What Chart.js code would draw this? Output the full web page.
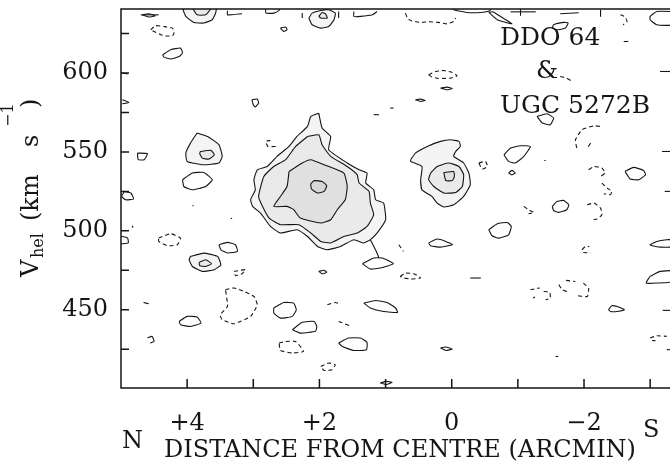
<!DOCTYPE html>
<html>
<head>
<meta charset="utf-8">
<title>DDO 64 position-velocity diagram</title>
<style>
  html, body { margin: 0; padding: 0; background: #fff; }
  #wrap { width: 670px; height: 471px; }
</style>
<script src="https://cdn.jsdelivr.net/npm/chart.js@4.4.1/dist/chart.umd.min.js"></script>
</head>
<body>
<div id="wrap"><canvas id="pv" width="670" height="471"></canvas></div>
<script>
// axes: offset along slit (arcmin, N positive / left) and heliocentric velocity (km/s)
const X_MIN = -3.3, X_MAX = 5;
const Y_MIN = 400.4, Y_MAX = 640.6;
const xTickValues = [4, 3, 2, 1, 0, -1, -2, -3];
const xLabelValues = [4, 2, 0, -2];
const xLabelText = ['+4', '+2', '0', '\u22122'];
const yTickValues = [425, 450, 475, 500, 525, 550, 575, 600, 625];
const yLabelValues = [450, 500, 550, 600];

// DDO 64 emission, outermost level first
const ddo64Outer = [[2.01,574.6],[1.96,565.2],[1.83,559.8],[1.86,551.4],[1.58,543.0],[1.40,538.7],[1.28,536.6],[1.30,530.3],[1.18,526.0],[1.15,519.7],[1.03,517.6],[1.00,507.0],[1.13,498.6],[1.23,494.4],[1.33,492.3],[1.48,494.4],[1.68,490.1],[1.88,488.0],[2.03,490.1],[2.18,496.4],[2.34,500.7],[2.59,498.6],[2.74,502.8],[2.89,511.3],[3.01,515.5],[3.04,519.7],[2.97,526.0],[2.99,532.4],[2.94,538.7],[2.79,540.8],[2.64,547.2],[2.46,553.5],[2.34,559.8],[2.18,566.2],[2.13,572.5]];
const ddo64Second = [[2.18,559.8],[2.01,560.9],[1.96,554.6],[1.83,547.2],[1.58,540.8],[1.43,535.6],[1.40,530.3],[1.25,525.0],[1.23,517.6],[1.18,510.2],[1.28,502.8],[1.43,498.6],[1.63,496.4],[1.83,492.3],[1.98,493.3],[2.13,498.6],[2.31,503.9],[2.59,503.9],[2.76,508.1],[2.86,515.5],[2.92,521.8],[2.84,534.5],[2.69,540.8],[2.51,545.1],[2.36,553.5]];
const ddo64Third = [[2.46,537.6],[2.26,543.0],[2.13,545.1],[1.93,541.9],[1.63,536.6],[1.58,528.1],[1.61,519.7],[1.73,513.4],[1.83,507.0],[1.98,505.0],[2.29,508.1],[2.39,513.4],[2.49,515.5],[2.69,515.5],[2.59,521.8],[2.49,528.1]];
const ddo64Peak = [[2.08,531.9],[1.96,531.3],[1.89,528.6],[1.93,525.0],[2.03,524.0],[2.12,526.5],[2.13,529.8]];
const ddo64Tail = [[1.23,494.4],[1.13,486.0],[1.10,482.8]];

// UGC 5272B emission
const ugcOuter = [[0.62,545.1],[0.55,549.3],[0.37,553.5],[0.17,556.7],[0.02,557.7],[-0.11,556.7],[-0.13,553.5],[-0.06,550.3],[-0.03,547.2],[-0.18,543.0],[-0.26,536.6],[-0.28,529.2],[-0.18,521.8],[-0.03,516.5],[0.12,515.1],[0.22,517.6],[0.30,521.8],[0.45,526.0],[0.47,532.4],[0.45,540.8],[0.62,544.0]];
const ugcMiddle = [[0.32,536.6],[0.22,540.8],[0.05,543.0],[-0.11,540.8],[-0.18,535.6],[-0.16,528.1],[-0.06,524.3],[0.12,524.0],[0.27,528.1],[0.35,532.4]];
const ugcPeak = [[0.12,537.0],[-0.03,537.6],[-0.04,534.5],[-0.01,531.9],[0.09,531.9]];

// weaker shaded features
const blob550Outer = [[3.85,562.0],[3.69,559.8],[3.52,554.6],[3.47,547.2],[3.52,543.0],[3.75,541.9],[4.00,544.0],[4.02,549.3],[3.95,555.6]];
const blob550Inner = [[3.80,550.3],[3.64,551.0],[3.59,548.2],[3.67,545.5],[3.77,546.1],[3.81,548.9]];
const blob480Outer = [[3.95,483.8],[3.75,485.9],[3.54,483.8],[3.49,478.5],[3.59,475.4],[3.77,474.3],[3.92,477.4],[3.97,481.7]];
const blob480Inner = [[3.82,480.0],[3.72,481.7],[3.63,479.1],[3.72,477.4],[3.81,477.9]];
const topBlobAOuter = [[4.08,642],[4.02,635.9],[3.90,632.1],[3.75,631.7],[3.62,633.8],[3.57,638.0],[3.56,642]];
const topBlobAInner = [[3.93,642],[3.85,636.9],[3.72,636.9],[3.63,642]];
const topBlobBOuter = [[2.16,634.9],[2.11,638.0],[1.98,639.7],[1.86,640.1],[1.76,638.0],[1.78,633.8],[1.86,629.5],[1.98,628.5],[2.11,630.6]];
const topBlobBInner = [[2.01,635.9],[1.96,638.4],[1.91,637.6],[1.88,634.9],[1.98,634.9]];

// positive noise contours (closed)
const solidLoops = [
  [[4.75,549.3],[4.60,548.9],[4.65,545.1],[4.74,545.1]],
  [[4.95,525.0],[4.85,524.0],[4.81,520.2],[4.93,519.7],[4.99,521.8]],
  [[4.07,532.4],[3.92,536.6],[3.75,537.0],[3.62,532.4],[3.72,528.1],[3.92,526.0],[4.05,528.1]],
  [[3.52,491.2],[3.39,492.7],[3.27,491.2],[3.24,487.0],[3.39,486.0],[3.49,488.0]],
  [[4.12,442.6],[4.00,445.8],[3.85,445.4],[3.79,441.6],[3.95,439.4],[4.10,440.5]],
  [[1.35,479.2],[1.18,482.8],[1.05,482.8],[0.88,479.2],[1.08,476.4],[1.23,475.8]],
  [[0.35,492.3],[0.22,494.8],[0.09,493.3],[-0.01,491.2],[0.17,489.7],[0.32,490.6]],
  [[2.01,474.3],[1.93,475.0],[1.89,473.7],[1.96,472.8]],
  [[2.69,451.1],[2.54,454.6],[2.39,454.2],[2.35,449.9],[2.41,445.8],[2.59,444.7],[2.69,447.9]],
  [[1.33,454.2],[1.15,455.9],[0.98,454.6],[0.85,451.1],[0.82,448.3],[1.03,448.9],[1.23,451.1]],
  [[2.41,437.3],[2.26,442.0],[2.08,442.6],[2.04,439.4],[2.06,436.3],[2.29,435.2]],
  [[1.71,428.9],[1.56,432.1],[1.38,432.1],[1.28,429.3],[1.29,424.7],[1.48,424.2],[1.66,426.8]],
  [[0.17,425.7],[0.09,426.4],[-0.01,425.1],[0.09,424.2]],
  [[1.08,403.6],[0.99,404.6],[0.90,404.0],[0.99,402.5]],
  [[-0.79,548.2],[-0.89,552.5],[-1.04,553.9],[-1.19,553.5],[-1.09,547.2],[-0.96,543.0],[-0.86,544.0]],
  [[-0.86,536.6],[-0.91,538.3],[-0.96,536.6],[-0.91,535.5]],
  [[-2.62,537.6],[-2.75,540.2],[-2.90,538.3],[-2.93,535.6],[-2.83,532.4],[-2.70,532.8]],
  [[-1.52,515.5],[-1.59,518.6],[-1.69,519.3],[-1.77,516.5],[-1.74,513.4],[-1.62,511.7],[-1.54,512.9]],
  [[-0.56,500.7],[-0.69,504.5],[-0.84,505.3],[-0.90,502.8],[-0.86,497.5],[-0.71,495.4],[-0.61,496.9]],
  [[-2.37,450.0],[-2.42,452.5],[-2.50,452.1],[-2.61,450.0],[-2.50,448.9],[-2.40,448.9]],
  [[4.37,611.6],[4.25,614.8],[4.10,615.8],[4.07,612.7],[4.12,610.5],[4.25,608.9],[4.35,610.1]],
  [[3.02,583.1],[2.94,583.5],[2.92,581.0],[2.97,578.5],[3.00,579.9]],
  [[0.17,590.5],[0.07,591.1],[-0.01,590.2],[0.07,589.4]],
  [[0.55,583.1],[0.47,583.5],[0.40,582.6],[0.47,582.0]],
  [[-1.29,572.5],[-1.44,574.2],[-1.54,571.5],[-1.49,567.2],[-1.37,568.3]],
  [[-1.52,628.5],[-1.54,630.6],[-1.69,632.1],[-1.76,631.7],[-1.72,628.5],[-1.59,627.4]],
  [[4.68,636.9],[4.58,637.6],[4.48,636.3],[4.58,635.5]],
  [[2.59,628.5],[2.51,629.2],[2.49,627.4],[2.54,626.4]],
  [[-0.56,638.5],[-0.69,633.8],[-0.91,631.2],[-0.75,635.5],[-0.62,638.8]],
  [[-3.35,639.0],[-3.10,639.0],[-3.00,635.9],[-3.00,633.8],[-3.10,630.6],[-3.35,630.6]],
  [[-3.35,494.4],[-3.25,494.4],[-3.10,493.3],[-3.00,491.2],[-3.03,490.6],[-3.15,489.7],[-3.35,490.1]],
  [[-3.35,474.9],[-3.15,474.3],[-3.00,471.1],[-2.94,466.9],[-3.10,466.9],[-3.35,467.9]]
];

// positive contour pieces cut by the frame, and tiny fragments
const solidPieces = [
  [[2.81,642],[2.81,638.0],[2.69,638.0],[2.61,639.7],[2.58,642]],
  [[-0.03,642],[-0.03,640.1],[-0.23,638.4],[-0.43,638.4],[-0.58,639.7],[-0.60,642]],
  [[4.70,636.9],[4.43,636.9]],
  [[3.39,639.5],[3.39,636.9],[3.17,637.6]],
  [[2.26,638.0],[2.26,634.9]],
  [[1.71,639.0],[1.71,634.9]],
  [[1.48,639.0],[1.48,635.9],[1.38,635.9],[1.20,636.9],[1.13,639.0]],
  [[-0.89,638.8],[-1.27,638.8]],
  [[-1.04,640.6],[-1.04,636.3]],
  [[-1.64,637.6],[-1.92,638.2]],
  [[-2.25,640.1],[-2.25,635.7]],
  [[-2.60,620.0],[-2.67,620.0]],
  [[-3.15,601.0],[-3.35,601.0]],
  [[-3.18,550.3],[-3.35,550.3]],
  [[-3.22,525.0],[-3.35,525.0]],
  [[-3.19,449.6],[-3.35,449.6]],
  [[-3.25,424.7],[-3.35,424.7]],
  [[1.18,573.6],[1.10,573.6]],
  [[0.93,577.8],[0.88,577.8]],
  [[-0.28,470.1],[-0.44,470.1]],
  [[4.66,454.6],[4.58,453.8]],
  [[4.60,432.1],[4.53,433.1],[4.50,429.9],[4.56,428.9]],
  [[5.05,496.4],[4.98,496.4],[4.90,495.4],[4.89,492.3],[4.98,491.8],[5.05,491.8]],
  [[4.98,583.1],[4.88,581.4],[4.98,580.5]],
  [[4.98,600.0],[4.90,599.5]],
  [[3.92,515.9],[3.90,515.9]],
  [[3.34,507.9],[3.32,507.9]],
  [[4.83,503.2],[4.82,502.0]],
  [[-1.40,544.6],[-1.42,544.6]],
  [[-1.57,420.4],[-1.61,420.4]]
];

// negative contours (dashed)
const dashedLoops = [
  [[4.43,495.4],[4.25,498.2],[4.10,495.4],[4.15,491.2],[4.30,490.6],[4.43,493.3]],
  [[3.29,474.3],[3.12,475.4],[3.17,472.8],[3.27,471.6]],
  [[3.42,462.7],[3.29,463.8],[3.14,461.6],[2.99,458.4],[2.94,453.2],[3.04,445.8],[3.29,441.1],[3.47,443.7],[3.50,446.8],[3.39,452.1]],
  [[4.55,627.4],[4.48,630.0],[4.35,629.5],[4.22,628.5],[4.20,625.3],[4.22,623.6],[4.35,623.6],[4.45,625.3]],
  [[0.35,599.0],[0.24,601.0],[0.12,601.6],[-0.01,600.4],[-0.08,598.3],[0.02,596.8],[0.20,596.6],[0.30,597.5]],
  [[0.78,471.1],[0.70,473.2],[0.57,472.8],[0.47,470.1],[0.62,469.5],[0.72,470.1]],
  [[-0.41,543.0],[-0.51,544.0],[-0.54,540.8],[-0.46,539.2]],
  [[2.61,428.9],[2.51,429.9],[2.36,429.9],[2.24,423.6],[2.41,422.6],[2.59,424.2]],
  [[1.98,414.1],[1.86,416.2],[1.76,415.1],[1.81,412.0],[1.93,411.5]]
];

const dashedPieces = [
  [[-1.09,515.5],[-1.16,513.4],[-1.24,511.7],[-1.16,510.8]],
  [[-2.05,516.5],[-2.15,517.6],[-2.25,514.4],[-2.27,510.2],[-2.20,507.5],[-2.10,507.0]],
  [[-1.89,552.5],[-1.87,557.7],[-1.97,564.1],[-2.15,566.6],[-2.25,566.2]],
  [[-2.10,555.6],[-2.05,552.5]],
  [[-2.07,538.7],[-2.15,540.8],[-2.27,539.8],[-2.32,536.6],[-2.25,534.5]],
  [[-2.27,530.3],[-2.35,527.1],[-2.42,525.0],[-2.40,522.9],[-2.30,523.5]],
  [[-1.97,488.0],[-2.02,490.1],[-2.08,490.1]],
  [[-1.99,486.3],[-2.10,485.9]],
  [[-1.19,462.7],[-1.33,463.8]],
  [[-1.23,457.4],[-1.26,458.0]],
  [[-1.39,461.6],[-1.48,461.0],[-1.49,457.4],[-1.42,456.3]],
  [[-1.62,465.9],[-1.67,462.7],[-1.74,461.6]],
  [[-1.73,468.6],[-1.87,467.9]],
  [[-1.99,466.9],[-2.07,463.7],[-2.05,458.4],[-1.90,458.9]],
  [[-3.00,432.1],[-3.10,433.5],[-3.25,433.1]],
  [[-3.03,430.5],[-3.08,430.4]],
  [[1.88,453.2],[1.76,454.6],[1.69,453.8]],
  [[1.71,442.6],[1.54,439.9]],
  [[0.80,491.2],[0.73,487.0]],
  [[0.70,638.0],[0.67,634.9],[0.62,633.3],[0.47,632.1],[0.35,632.5],[0.20,632.1],[0.07,631.2],[-0.03,632.7],[-0.06,634.9]],
  [[-1.64,597.8],[-1.74,596.8],[-1.82,594.7]],
  [[-2.55,637.0],[-2.62,635.7],[-2.65,632.5],[-2.59,630.6]],
  [[2.74,557.3],[2.81,556.7],[2.78,553.5],[2.66,553.5]]
];

const shaded = [
  ddo64Outer, ddo64Second, ddo64Third, ddo64Peak,
  ugcOuter, ugcMiddle, ugcPeak,
  blob550Outer, blob550Inner, blob480Outer, blob480Inner,
  topBlobAOuter, topBlobAInner, topBlobBOuter, topBlobBInner
];

const FONT = '"DejaVu Serif", "Liberation Serif", serif';
const INK = '#151515';

function toPoints(arr, closed) {
  const pts = arr.map(([x, y]) => ({ x, y }));
  if (closed) pts.push({ x: arr[0][0], y: arr[0][1] });
  return pts;
}

function contour(arr, { closed = true, dashed = false, fill = false } = {}) {
  return {
    data: toPoints(arr, closed),
    showLine: true,
    borderColor: INK,
    borderWidth: 1.1,
    borderDash: dashed ? [4, 3] : [],
    pointRadius: 0,
    tension: 0.15,
    fill: fill ? 'shape' : false,
    backgroundColor: 'rgba(0,0,0,0.045)'
  };
}

const datasets = [
  ...shaded.map(a => contour(a, { fill: true })),
  contour(ddo64Tail, { closed: false }),
  ...solidLoops.map(a => contour(a)),
  ...solidPieces.map(a => contour(a, { closed: false })),
  ...dashedLoops.map(a => contour(a, { dashed: true })),
  ...dashedPieces.map(a => contour(a, { closed: false, dashed: true }))
];

function labelFrom(values, texts, v) {
  const i = values.indexOf(v);
  return i >= 0 ? texts[i] : '';
}

const frameAndText = {
  id: 'frameAndText',
  afterDraw(chart) {
    const { ctx, chartArea: a, scales: { x, y } } = chart;
    ctx.save();
    ctx.strokeStyle = INK;
    ctx.lineWidth = 1.5;
    ctx.beginPath();
    ctx.moveTo(a.right + 2, a.top);
    ctx.lineTo(a.left, a.top);
    ctx.lineTo(a.left, a.bottom);
    ctx.lineTo(a.right + 2, a.bottom);
    xTickValues.forEach(v => {
      const p = x.getPixelForValue(v);
      ctx.moveTo(p, a.bottom); ctx.lineTo(p, a.bottom - 9);
    });
    yTickValues.forEach(v => {
      const p = y.getPixelForValue(v);
      ctx.moveTo(a.left, p); ctx.lineTo(a.left + 8, p);
    });
    ctx.stroke();

    ctx.fillStyle = INK;
    ctx.textBaseline = 'alphabetic';
    ctx.font = '24px ' + FONT;
    ctx.textAlign = 'left';
    ctx.fillText('N', 122, 448);
    ctx.fillText('S', 643, 437);
    ctx.textAlign = 'center';
    ctx.fillText('DISTANCE FROM CENTRE (ARCMIN)', 400, 457);

    ctx.textAlign = 'left';
    ctx.font = '25px ' + FONT;
    ctx.fillText('DDO 64', 500, 45);
    ctx.fillText('&', 536, 78);
    ctx.fillText('UGC 5272B', 500, 113);

    // rotated velocity title with sub/superscripts
    const piece = (txt, size, base, start) => {
      ctx.save();
      ctx.translate(base, start);
      ctx.rotate(-Math.PI / 2);
      ctx.font = size + 'px ' + FONT;
      ctx.fillText(txt, 0, 0);
      ctx.restore();
    };
    piece('V', 24, 38, 277);
    piece('hel', 16, 43, 258);
    piece('(km', 24, 38, 221);
    piece('s', 24, 38, 147);
    piece('\u22121', 16, 13, 127);
    piece(')', 24, 38, 108);
    ctx.restore();
  }
};

new Chart(document.getElementById('pv'), {
  type: 'scatter',
  data: { datasets },
  options: {
    responsive: false,
    animation: false,
    events: [],
    layout: { padding: { top: 9, right: 0, bottom: 0, left: 0 } },
    plugins: { legend: { display: false }, tooltip: { enabled: false } },
    scales: {
      x: {
        type: 'linear', reverse: true, min: X_MIN, max: X_MAX,
        grid: { display: false, drawTicks: false },
        border: { display: false },
        afterBuildTicks: s => { s.ticks = xTickValues.map(v => ({ value: v })); },
        afterFit: s => { s.height = 83; s.paddingLeft = 0; s.paddingRight = 0; },
        ticks: {
          autoSkip: false, maxRotation: 0, padding: 21, color: INK,
          font: { family: FONT, size: 24 },
          callback: v => labelFrom(xLabelValues, xLabelText, v)
        }
      },
      y: {
        type: 'linear', min: Y_MIN, max: Y_MAX,
        grid: { display: false, drawTicks: false },
        border: { display: false },
        afterBuildTicks: s => { s.ticks = yTickValues.map(v => ({ value: v })); },
        afterFit: s => { s.width = 121; s.paddingTop = 0; s.paddingBottom = 0; },
        ticks: {
          autoSkip: false, padding: 13, color: INK,
          font: { family: FONT, size: 24 },
          callback: v => labelFrom(yLabelValues, yLabelValues.map(String), v)
        }
      }
    }
  },
  plugins: [frameAndText]
});
</script>
</body>
</html>
